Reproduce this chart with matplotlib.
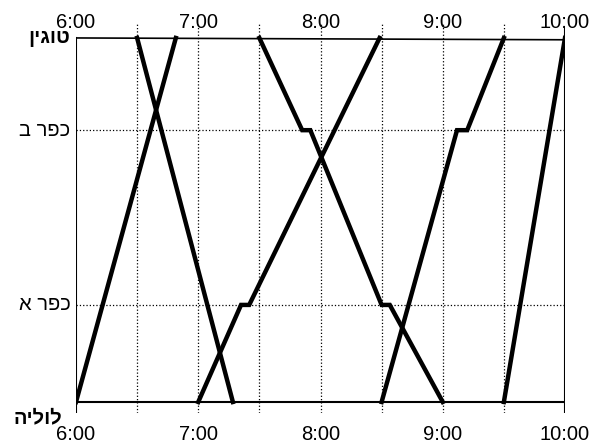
import matplotlib.pyplot as plt

plt.rcParams['font.family'] = ['Liberation Sans', 'DejaVu Sans']

# stations, bottom to top (distance in km)
stations = ["לוליה", "כפר א", "כפר ב", "טוגין"]
station_km = [0, 8, 22.4, 30]
station_bold = [True, False, False, True]

hour_labels = ["6:00", "7:00", "8:00", "9:00", "10:00"]
hours = [6, 7, 8, 9, 10]
half_hours = [6.5, 7, 7.5, 8, 8.5, 9, 9.5]

# trains: times (h:mm) and station index at each point
train1_t = ["6:00", "6:49"]
train1_s = [0, 3]
train2_t = ["6:30", "7:17"]
train2_s = [3, 0]
train3_t = ["7:00", "7:21", "7:25", "8:29"]
train3_s = [0, 1, 1, 3]
train4_t = ["7:30", "7:51", "7:55", "8:30", "8:34", "9:00"]
train4_s = [3, 2, 2, 1, 1, 0]
train5_t = ["8:30", "9:07", "9:12", "9:30"]
train5_s = [0, 2, 2, 3]
train6_t = ["9:30", "10:00"]
train6_s = [0, 3]

trains = [(train1_t, train1_s), (train2_t, train2_s), (train3_t, train3_s),
          (train4_t, train4_s), (train5_t, train5_s), (train6_t, train6_s)]


def to_h(s):
    h, m = s.split(":")
    return int(h) + int(m) / 60


def rtl(s):
    # matplotlib has no bidi support, so lay hebrew out in visual order
    return s[::-1]


fig = plt.figure(figsize=(5.92, 4.44), dpi=100)
ax = fig.add_axes([76 / 592, 31 / 444, 489 / 592, 389 / 444])
ymin, ymax = -0.907, 31.15
ax.set_xlim(6, 10)
ax.set_ylim(ymin, ymax)
ax.axis('off')

top = station_km[-1]
bot = station_km[0]

# grid
for x in half_hours:
    ax.plot([x, x], [ymin, ymax], color='k', ls=':', lw=0.9, zorder=1)
for km in station_km[1:3]:
    ax.plot([6, 10], [km, km], color='k', ls=':', lw=0.9, zorder=1)

# frame lines
ax.plot([6, 10], [top, top - 0.15], color='k', lw=1.2, zorder=2)
ax.plot([6, 10], [bot, bot], color='k', lw=1.5, zorder=2)
ax.plot([6, 6], [ymin, top], color='k', lw=1.5, zorder=2)
ax.plot([10, 10], [ymin, 30.9], color='k', lw=1.5, zorder=2)

# trains
for t, s in trains:
    ax.plot([to_h(v) for v in t], [station_km[i] for i in s],
            color='k', lw=3.2, solid_joinstyle='miter', zorder=3)

# hour labels top and bottom
for h, lab in zip(hours, hour_labels):
    ax.text(h, 30.5, lab, ha='center', va='bottom', fontsize=14.5)
    ax.text(h, -1.9, lab, ha='center', va='top', fontsize=14.5)

# station labels
for name, km, b in zip(stations, station_km, station_bold):
    y = km if km > 0 else -1.3
    ax.text(5.955 if km > 0 else 5.885, y, rtl(name), ha='right', va='center',
            fontsize=14.5, fontweight='bold' if b else 'normal')

fig.savefig("out.png", dpi=100)
